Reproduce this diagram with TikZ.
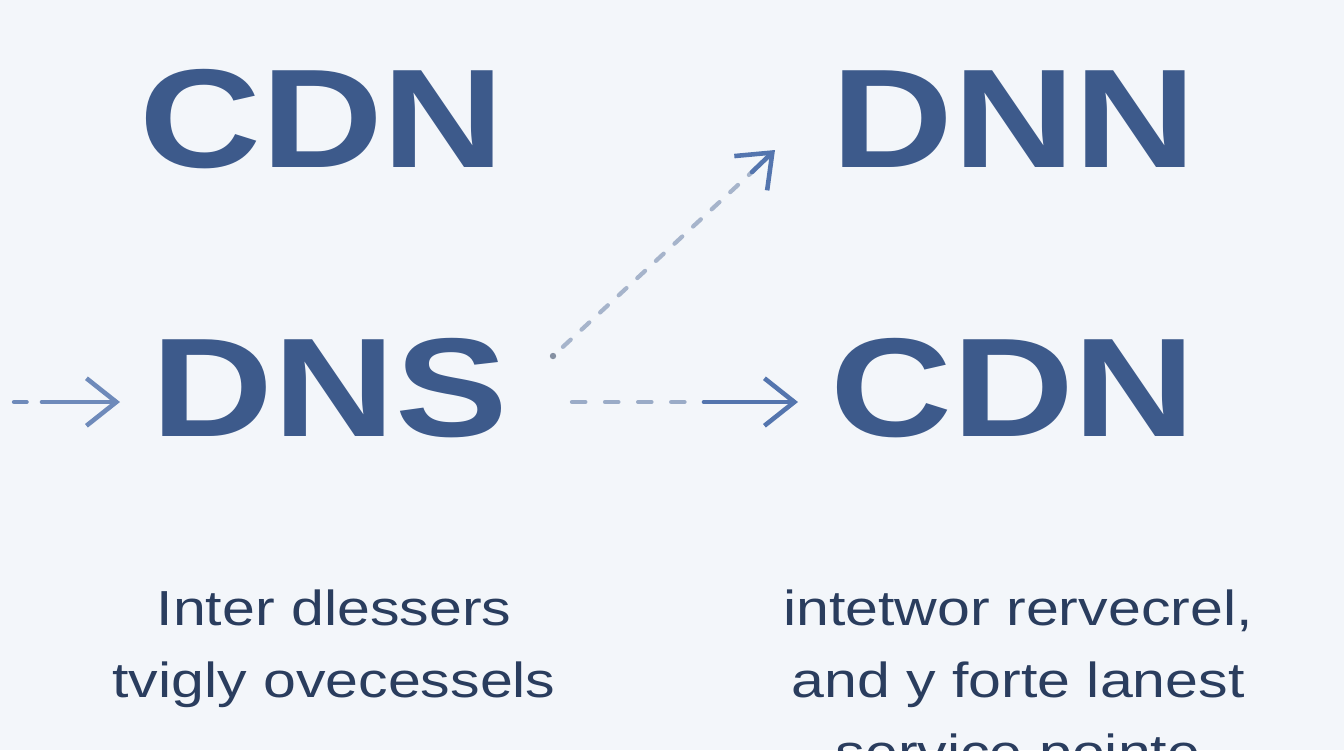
\documentclass[tikz,border=0pt]{standalone}
\usepackage{fontspec}
\setmainfont{Liberation Sans}[FakeStretch=1.2]
\newfontfamily\titlefont{Liberation Sans}[FakeStretch=1.2]
\usetikzlibrary{arrows.meta,positioning,calc}
\definecolor{myblue}{HTML}{3D5A8B}
\definecolor{mynavy}{HTML}{2A3D5E}
\definecolor{arrowblue}{HTML}{5475AE}
\definecolor{dashgrey}{HTML}{A6B4CB}
\definecolor{bgcol}{HTML}{F3F6FA}

\tikzset{
  title/.style={font=\titlefont\bfseries\fontsize{40}{40}\selectfont, text=myblue, inner sep=0pt},
  caption/.style={font=\fontsize{14}{20.5}\selectfont, text=mynavy, align=center, inner sep=0pt},
  dashpart/.style={line width=1.2pt, line cap=round},
  headpart/.style={arrowblue, line width=1.3pt, line cap=round,
    -{Straight Barb[length=8.5pt,width=13.5pt,line width=1.3pt]}}
}

\begin{document}
\begin{tikzpicture}[x=0.01cm, y=-0.01cm]
    % background
    \fill[bgcol] (0,0) rectangle (1344,750);
    \useasboundingbox (0,0) rectangle (1344,750);

    % titles
    \node[title] (cdnA) at (322,119) {CDN};
    \node[title] (dnn)  at (1014,119) {DNN};
    \node[title] (dns)  at (330,388) {DNS};
    \node[title] (cdnB) at (1013,388) {CDN};

    % captions
    \node[caption, anchor=north] (capL) at (334,589) {Inter dlessers\\tvigly ovecessels};
    \node[caption, anchor=north] (capR) at (1018,589) {intetwor rervecrel,\\and y forte lanest\\service pointe};

    % arrow ends
    \coordinate (inA) at (14,402);
    \coordinate (inB) at (42,402);
    \coordinate (inC) at (120,402);
    \coordinate (upA) at (553,356);
    \coordinate (upB) at (752,172);
    \coordinate (upC) at (775,150);
    \coordinate (rtA) at (572,402);
    \coordinate (rtB) at (704,402);
    \coordinate (rtC) at (798,402);

    % incoming arrow
    \draw[dashpart, color=arrowblue!85, dash pattern=on 3.6pt off 20pt] (inA) -- (inB);
    \draw[headpart, color=arrowblue!85] (inB) -- (inC);

    % diagonal arrow
    \fill[dashgrey!80!black] (upA) circle (3.2);
    \draw[dashpart, dashgrey, dash pattern=on 3pt off 4.2pt] ($(upA)!0.05!(upB)$) -- (upB);
    \draw[headpart] (upB) -- (upC);

    % horizontal arrow
    \draw[dashpart, dashgrey!85!arrowblue, dash pattern=on 3.8pt off 5.6pt] (rtA) -- (rtB);
    \draw[headpart] (rtB) -- (rtC);
\end{tikzpicture}
\end{document}
